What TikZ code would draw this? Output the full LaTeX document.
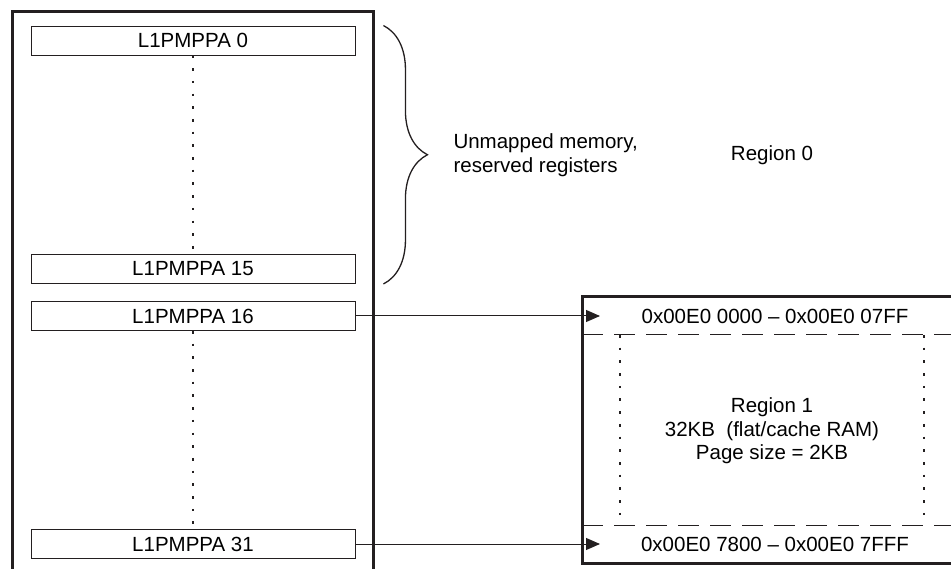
\documentclass[tikz,border=0pt]{standalone}
\usepackage{fontspec}
\setmainfont{Liberation Sans}
\usetikzlibrary{positioning,arrows.meta,decorations.pathreplacing}
\definecolor{ink}{HTML}{231F20}

\begin{document}
\begin{tikzpicture}[x=1pt,y=-1pt,font=\fontsize{20.5}{23.5}\selectfont,
  reg/.style={draw=ink,line width=0.9pt,minimum width=324pt,minimum height=29pt,inner sep=0pt},
  frame/.style={draw=ink,line width=3pt},
  flow/.style={-{Triangle[length=14pt,width=12pt]},draw=ink,line width=1pt},
  dots/.style={draw=ink,line width=2.3pt,dash pattern=on 2.6pt off 10.1pt},
  cut/.style={draw=ink,line width=1pt,dash pattern=on 21pt off 11pt}]
\useasboundingbox (0,0) rectangle (951,569);
% register file
\draw[frame] (12,569) -- (12,12) -- (373,12) -- (373,569);
\node[reg] (reg0) at (193,40.5) {L1PMPPA 0};
\node[reg] (reg15) at (193,269) {L1PMPPA 15};
\node[reg] (reg16) at (193,316) {L1PMPPA 16};
\node[reg] (reg31) at (193,544) {L1PMPPA 31};
\draw[dots] (reg0.south) -- (reg15.north);
\draw[dots] (reg16.south) -- (reg31.north);
% region 0
\draw[draw=ink,line width=1.3pt,decorate,decoration={brace,amplitude=44pt,aspect=0.5}]
  ([xshift=28pt]reg0.north east) -- ([xshift=28pt]reg15.south east);
\node[anchor=west,align=left] (unmap) at (450,155) {Unmapped memory,\\reserved registers};
\node (reg0lbl) at (772,155) {Region 0};
% region 1
\draw[frame] (951,297) -- (582,297) -- (582,563) -- (951,563);
\node (addrlo) at (775,316) {0x00E0 0000 -- 0x00E0 07FF};
\node (addrhi) at (775,544) {0x00E0 7800 -- 0x00E0 7FFF};
\coordinate (inlo) at (600,316);
\coordinate (inhi) at (600,544);
\draw[cut] (582,335) -- (951,335);
\draw[cut] (582,525) -- (951,525);
\draw[dots] (620,335) -- (620,525);
\draw[dots] (924,335) -- (924,525);
\node[align=center] (reg1lbl) at (772,431) {Region 1\\32KB\ \ (flat/cache RAM)\\Page size = 2KB};
\draw[flow] (reg16.east) -- (inlo);
\draw[flow] (reg31.east) -- (inhi);
\end{tikzpicture}
\end{document}
